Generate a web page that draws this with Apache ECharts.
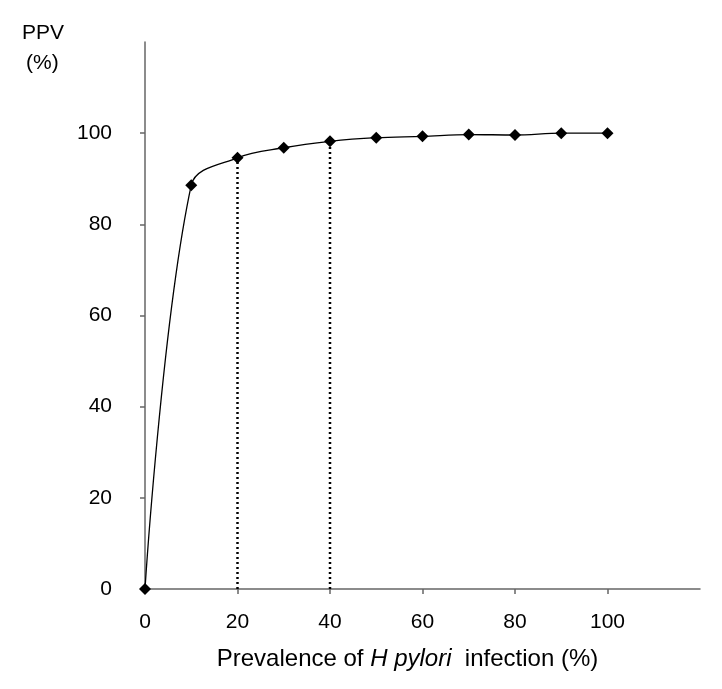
<!DOCTYPE html>
<html><head><meta charset="utf-8">
<script src="https://cdn.jsdelivr.net/npm/echarts@6/dist/echarts.min.js"></script>
<style>html,body{margin:0;padding:0;background:#fff}#c{width:722px;height:689px}</style>
</head><body><div id="c"></div>
<script>
const prevalence = [0, 10, 20, 30, 40, 50, 60, 70, 80, 90, 100];
const ppv = [0, 88.6, 94.6, 96.8, 98.2, 99.0, 99.3, 99.7, 99.6, 100.0, 100.0];
const tickValues = [0, 20, 40, 60, 80, 100];
const guideX = [20, 40];
const guideY = [94.6, 98.2];

const chart = echarts.init(document.getElementById('c'));
const font = 'Liberation Sans, Arial, sans-serif';
const axisCommon = {
  type: 'value', min: 0, max: 120, interval: 20,
  splitLine: { show: false },
  axisLine: { show: true, lineStyle: { color: '#666', width: 1.5 } },
  axisTick: { show: true, inside: false, length: 5, customValues: tickValues, lineStyle: { color: '#666', width: 1.5 } },
  axisLabel: { customValues: tickValues, color: '#000', fontSize: 21, fontFamily: font }
};
const guides = guideX.map((x, i) => ({
  type: 'line', data: [[x, 0], [x, guideY[i]]], symbol: 'none', silent: true, z: 1,
  lineStyle: { color: '#000', width: 2.5, type: [2, 3] }
}));
chart.setOption({
  animation: false,
  grid: { left: 145, right: 22, top: 42, bottom: 100 },
  xAxis: Object.assign({}, axisCommon, {
    axisLabel: Object.assign({}, axisCommon.axisLabel, { margin: 23 }),
    name: 'Prevalence of {i|H pylori}  infection (%)',
    nameLocation: 'middle', nameGap: 58,
    nameTextStyle: { color: '#000', fontSize: 24, fontFamily: font, padding: [0, 30, 0, 0],
      rich: { i: { fontStyle: 'italic', fontSize: 24, fontFamily: font, color: '#000' } } }
  }),
  yAxis: Object.assign({}, axisCommon, {
    axisLabel: Object.assign({}, axisCommon.axisLabel, { margin: 33 })
  }),
  graphic: [
    { type: 'text', left: 22, top: 23, style: { text: 'PPV', fontSize: 21, fontFamily: font, fill: '#000' } },
    { type: 'text', left: 26, top: 53, style: { text: '(%)', fontSize: 21, fontFamily: font, fill: '#000' } }
  ],
  series: guides.concat([{
    type: 'line', data: prevalence.map((x, i) => [x, ppv[i]]), smooth: 0.35,
    symbol: 'diamond', symbolSize: 12, z: 3,
    lineStyle: { color: '#000', width: 1.3 },
    itemStyle: { color: '#000' }
  }])
});
</script></body></html>
